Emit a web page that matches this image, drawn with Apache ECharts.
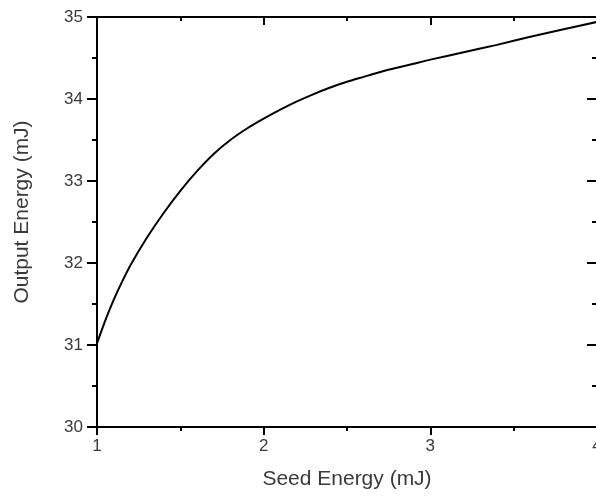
<!DOCTYPE html>
<html>
<head>
<meta charset="utf-8">
<script src="https://cdn.jsdelivr.net/npm/echarts@6/dist/echarts.min.js"></script>
<style>
  html, body { margin: 0; padding: 0; background: #fff; }
  #chart { width: 596px; height: 496px; }
</style>
</head>
<body>
<div id="chart"></div>
<script>
// Seed energy (mJ) and the resulting output energy (mJ)
const seedEnergy = [1.0, 1.05, 1.1, 1.15, 1.2, 1.3, 1.4, 1.5, 1.6, 1.7, 1.8, 1.9, 2.0,
  2.1, 2.2, 2.3, 2.4, 2.5, 2.6, 2.7, 2.8, 2.9, 3.0, 3.2, 3.4, 3.6, 3.8, 4.0];
const outputEnergy = [31.02, 31.30, 31.55, 31.77, 31.97, 32.31, 32.61, 32.88, 33.12, 33.33, 33.50, 33.64, 33.76,
  33.87, 33.97, 34.06, 34.14, 34.21, 34.27, 34.33, 34.38, 34.43, 34.48, 34.57, 34.66, 34.76, 34.85, 34.94];

const xTicks = [1, 2, 3, 4];
const yTicks = [30, 31, 32, 33, 34, 35];

const FONT = '"Liberation Sans", Arial, sans-serif';
const TEXT = '#3a3a3a';

const chart = echarts.init(document.getElementById('chart'), null, { renderer: 'canvas' });

const lineStyle = { color: '#000', width: 2 };

chart.setOption({
  animation: false,
  backgroundColor: '#fff',
  grid: { left: 97, right: -1, top: 17, bottom: 69, containLabel: false, outerBoundsMode: 'none' },
  xAxis: [
    {
      type: 'value',
      min: xTicks[0], max: xTicks[xTicks.length - 1], interval: 1,
      name: 'Seed Energy (mJ)',
      nameLocation: 'middle', nameGap: 42,
      nameTextStyle: { fontFamily: FONT, fontSize: 21, color: TEXT },
      axisLine: { show: true, onZero: false, lineStyle: lineStyle },
      axisTick: { show: true, inside: false, length: 8, lineStyle: lineStyle },
      minorTick: { show: true, splitNumber: 2, length: 4, lineStyle: lineStyle },
      axisLabel: { fontFamily: FONT, fontSize: 17, color: TEXT, margin: 11 },
      splitLine: { show: false }
    },
    {
      type: 'value', position: 'top',
      min: xTicks[0], max: xTicks[xTicks.length - 1], interval: 1,
      axisLine: { show: true, onZero: false, lineStyle: lineStyle },
      axisTick: { show: true, inside: true, length: 8, lineStyle: lineStyle },
      minorTick: { show: true, splitNumber: 2, length: 4, lineStyle: lineStyle },
      axisLabel: { show: false },
      splitLine: { show: false }
    }
  ],
  yAxis: [
    {
      type: 'value',
      min: yTicks[0], max: yTicks[yTicks.length - 1], interval: 1,
      name: 'Output Energy (mJ)',
      nameLocation: 'middle', nameGap: 64,
      nameTextStyle: { fontFamily: FONT, fontSize: 21, color: TEXT, padding: [0, 0, 0, 20] },
      axisLine: { show: true, onZero: false, lineStyle: lineStyle },
      axisTick: { show: true, inside: false, length: 10, lineStyle: lineStyle },
      minorTick: { show: true, splitNumber: 2, length: 5, lineStyle: lineStyle },
      axisLabel: { fontFamily: FONT, fontSize: 17, color: TEXT, margin: 14 },
      splitLine: { show: false }
    },
    {
      type: 'value', position: 'right',
      min: yTicks[0], max: yTicks[yTicks.length - 1], interval: 1,
      axisLine: { show: true, onZero: false, lineStyle: lineStyle },
      axisTick: { show: true, inside: true, length: 10, lineStyle: lineStyle },
      minorTick: { show: true, splitNumber: 2, length: 5, lineStyle: lineStyle },
      axisLabel: { show: false },
      splitLine: { show: false }
    }
  ],
  series: [
    {
      type: 'line',
      xAxisIndex: 0, yAxisIndex: 0,
      data: seedEnergy.map((x, i) => [x, outputEnergy[i]]),
      smooth: 0.2,
      showSymbol: false,
      lineStyle: { color: '#000', width: 2 }
    }
  ]
});
</script>
</body>
</html>
